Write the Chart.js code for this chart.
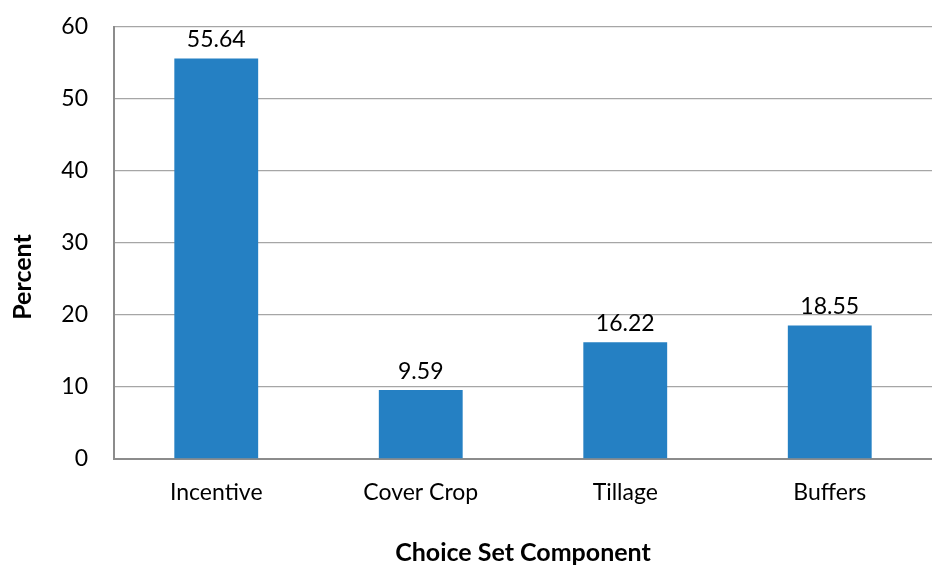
<!DOCTYPE html>
<html>
<head>
<meta charset="utf-8">
<script src="https://cdn.jsdelivr.net/npm/chart.js@4/dist/chart.umd.min.js"></script>
<style>
  html, body { margin: 0; padding: 0; background: #fff; }
  #wrap { width: 932px; height: 569px; }
</style>
</head>
<body>
<div id="wrap"><canvas id="bar-chart"></canvas></div>
<script>
const categories = ['Incentive', 'Cover Crop', 'Tillage', 'Buffers'];
const percentValues = [55.64, 9.59, 16.22, 18.55];
const yTicks = [0, 10, 20, 30, 40, 50, 60];

const fontFamily = 'Lato, "Open Sans", sans-serif';

// value labels above each bar + rotated y title
const labelPlugin = {
  id: 'barLabels',
  afterDatasetsDraw(chart) {
    const ctx = chart.ctx;
    const meta = chart.getDatasetMeta(0);
    ctx.save();
    ctx.fillStyle = '#000';
    ctx.font = '23px ' + fontFamily;
    ctx.textAlign = 'center';
    ctx.textBaseline = 'alphabetic';
    meta.data.forEach((bar, i) => {
      ctx.fillText(percentValues[i].toFixed(2), bar.x, bar.y - 11);
    });
    ctx.translate(23, 277);
    ctx.rotate(-Math.PI / 2);
    ctx.font = 'bold 25px ' + fontFamily;
    ctx.textBaseline = 'middle';
    ctx.fillText('Percent', 0, 0);
    ctx.restore();
  }
};

new Chart(document.getElementById('bar-chart'), {
  type: 'bar',
  data: {
    labels: categories,
    datasets: [{
      label: 'Percent',
      data: percentValues,
      backgroundColor: '#2580c3',
      barPercentage: 0.82,
      categoryPercentage: 0.5
    }]
  },
  options: {
    responsive: true,
    maintainAspectRatio: false,
    animation: false,
    layout: { padding: { top: 27, right: 0, left: 0, bottom: 0 } },
    plugins: {
      legend: { display: false },
      tooltip: { enabled: false }
    },
    scales: {
      x: {
        grid: { display: false, drawTicks: false },
        border: { color: '#8c8c8c', width: 2 },
        ticks: { color: '#000', font: { family: fontFamily, size: 23 }, padding: 20 },
        title: {
          display: true,
          text: 'Choice Set Component',
          color: '#000',
          font: { family: fontFamily, size: 25, weight: 'bold' },
          padding: { top: 0, bottom: 1 }
        },
        afterFit(scale) {
          scale.height = 110;
          scale.paddingLeft = 0;
          scale.paddingRight = 0;
        }
      },
      y: {
        min: 0,
        max: 60,
        afterBuildTicks(scale) { scale.ticks = yTicks.map(v => ({ value: v })); },
        grid: { color: '#a6a6a6', lineWidth: 1.3, drawTicks: false },
        border: { color: '#8c8c8c', width: 2 },
        ticks: { color: '#000', font: { family: fontFamily, size: 23 }, padding: 26 },
        afterFit(scale) {
          scale.width = 114;
          scale.paddingTop = 0;
          scale.paddingBottom = 0;
        }
      }
    }
  },
  plugins: [labelPlugin]
});
</script>
</body>
</html>
